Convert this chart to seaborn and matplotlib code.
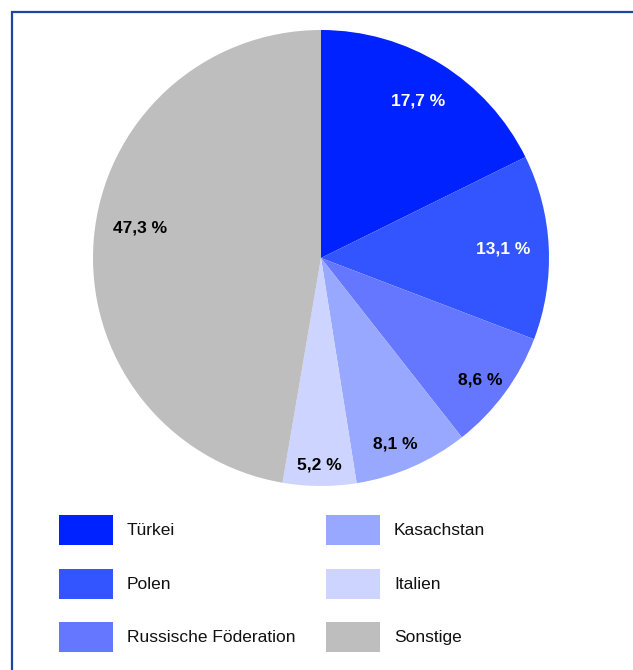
import numpy as np
import matplotlib
matplotlib.use("Agg")
import matplotlib.pyplot as plt
import matplotlib.patches as mpatches
import seaborn as sns

# Data
countries = ["Türkei", "Polen", "Russische Föderation", "Kasachstan", "Italien", "Sonstige"]
shares = [17.7, 13.1, 8.6, 8.1, 5.2, 47.3]
colors = ["#0022ff", "#3355ff", "#6677ff", "#99a8ff", "#ccd4ff", "#bebebe"]
label_colors = ["white", "white", "black", "black", "black", "black"]
label_dist = [0.81, 0.80, 0.88, 0.88, 0.91, 0.805]
label_shift = [0, 0, -1.1, -1.7, 0, -4.5]  # degrees

sns.set_theme(style="white")
plt.rcParams["font.family"] = ["Liberation Sans", "DejaVu Sans"]

W, H = 633, 670
fig = plt.figure(figsize=(W / 100, H / 100), dpi=100)
fig.patch.set_facecolor("white")

# pie axes: centre (321, 258), radius 228 px
cx, cy, r = 321, 258, 228
ax = fig.add_axes([(cx - r) / W, (H - cy - r) / H, 2 * r / W, 2 * r / H])
palette = sns.color_palette(colors)
wedges, _ = ax.pie(shares, colors=palette, startangle=90, counterclock=False,
                   radius=1, wedgeprops=dict(linewidth=0))
ax.set_xlim(-1, 1)
ax.set_ylim(-1, 1)
ax.axis("off")

for w, val, col, d, s in zip(wedges, shares, label_colors, label_dist, label_shift):
    ang = np.deg2rad((w.theta1 + w.theta2) / 2 + s)
    ax.text(d * np.cos(ang), d * np.sin(ang), f"{val:.1f} %".replace(".", ","),
            ha="center", va="center", color=col, fontsize=12.5, fontweight="bold")

# legend in two columns
fs = 12.5
fs_px = fs * 100 / 72
hh = (30 / fs_px - 0.245) / 0.65   # legend handle height so the box is 30 px
common = dict(frameon=False, fontsize=fs, borderpad=0, borderaxespad=0,
              handlelength=54 / fs_px, handleheight=hh,
              handletextpad=14 / fs_px, labelspacing=23.5 / fs_px, loc="upper left")
leg1 = fig.legend(wedges[:3], countries[:3], bbox_to_anchor=(58.7 / W, 1 - 515 / H), **common)
leg2 = fig.legend(wedges[3:], countries[3:], bbox_to_anchor=(326 / W, 1 - 515 / H), **common)
for leg in (leg1, leg2):
    for t in leg.get_texts():
        t.set_color("#111111")

# blue frame (only top and left edges are visible)
frame = mpatches.Rectangle((12 / W, -0.2), 1.5, 1.2 - 12 / H, transform=fig.transFigure,
                           fill=False, edgecolor="#1a47a0", linewidth=1.6)
fig.patches.append(frame)

fig.savefig("out.png", dpi=100)
